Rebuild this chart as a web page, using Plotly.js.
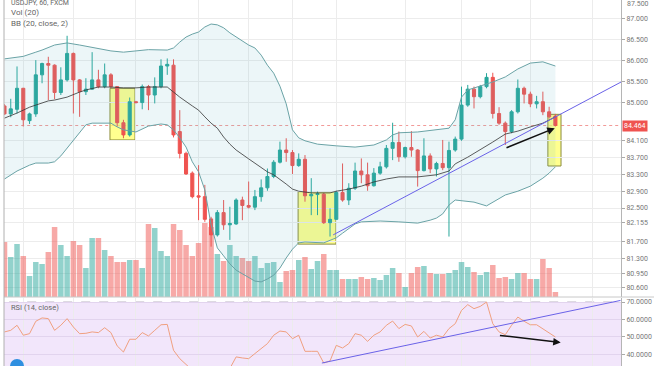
<!DOCTYPE html>
<html>
<head>
<meta charset="utf-8">
<script src="https://cdn.plot.ly/plotly-3.0.1.min.js"></script>
<style>html,body{margin:0;padding:0;background:#fff;}#chart{width:654px;height:366px;}</style>
</head>
<body>
<div id="chart"></div>
<script>
// ---- Candles ----
const opens  = [84.93,84.74,84.85,85.35,84.58,84.74,85.67,85.94,85.90,85.25,85.55,86.18,85.55,85.27,85.33,85.55,85.39,85.67,85.39,84.53,84.24,85.03,85.01,85.39,85.19,85.39,85.88,85.90,84.32,83.80,83.33,82.79,82.77,82.24,81.86,82.39,82.10,82.12,82.69,82.56,82.52,82.77,82.98,83.25,83.59,83.88,83.82,83.51,83.66,82.79,82.82,82.83,82.15,82.23,82.87,82.69,82.97,83.38,83.29,83.03,83.33,83.48,83.92,84.06,83.72,83.94,83.88,83.39,83.74,83.43,83.56,83.46,83.88,84.14,84.95,85.33,85.15,85.39,85.61,84.75,84.52,84.32,84.79,85.35,85.21,84.98,85.03,84.79,84.69];
const highs  = [84.97,85.10,85.87,85.36,84.77,86.02,85.96,86.10,85.92,85.85,86.60,86.20,85.57,85.59,86.21,85.79,85.94,85.71,85.40,84.60,85.13,85.05,85.44,85.43,85.61,86.04,86.06,86.04,84.83,83.84,83.37,83.52,83.05,82.29,82.45,82.69,82.53,82.73,82.77,83.13,82.93,83.18,83.44,83.64,84.08,84.16,83.88,83.80,83.76,83.21,82.89,82.86,82.49,82.91,83.56,83.09,83.58,83.68,83.58,83.45,83.60,84.00,84.53,84.32,83.96,84.33,83.90,84.16,83.80,83.60,84.12,84.08,84.20,85.39,85.43,85.39,85.43,85.71,85.72,84.90,84.56,84.83,85.56,85.39,85.27,85.17,85.27,84.91,84.74];
const lows   = [84.72,84.66,84.75,84.44,84.50,84.67,85.47,85.07,85.09,85.19,85.51,84.75,84.67,85.19,85.31,85.35,85.35,85.35,84.44,84.16,84.20,84.99,84.85,84.83,84.99,85.35,85.67,84.18,83.68,83.29,82.73,82.21,82.17,81.58,81.82,81.98,81.74,82.10,82.21,82.49,82.45,82.65,82.91,83.21,83.56,83.60,83.31,83.48,82.65,82.33,82.33,82.12,81.82,82.22,82.65,82.57,82.93,83.09,82.91,83.01,83.29,83.44,83.64,83.60,83.68,83.72,83.01,83.37,83.33,83.25,83.40,81.82,83.84,84.10,84.91,84.87,85.11,85.35,84.63,84.48,84.00,84.28,84.75,84.99,84.90,84.87,84.71,84.63,84.44];
const closes = [84.74,84.86,85.35,84.60,84.74,85.67,85.94,85.90,85.25,85.55,86.18,85.55,85.27,85.33,85.55,85.39,85.67,85.39,84.53,84.24,85.03,85.01,85.39,85.19,85.39,85.88,85.92,84.24,83.80,83.31,82.77,82.76,82.23,81.86,82.39,82.10,82.13,82.69,82.56,82.52,82.77,82.98,83.25,83.59,83.88,83.82,83.51,83.66,82.79,82.82,82.84,82.15,82.23,82.87,82.69,82.97,83.38,83.29,83.03,83.33,83.48,83.92,84.06,83.72,83.94,83.88,83.39,83.74,83.43,83.56,83.46,83.87,84.14,84.95,85.33,85.15,85.39,85.61,84.75,84.52,84.32,84.79,85.35,85.21,84.98,85.03,84.79,84.67,84.464];
const volumes = [55,40,53,41,21,35,33,45,70,52,41,56,52,29,59,59,47,41,35,35,37,37,29,73,69,46,41,73,67,52,41,54,74,70,43,36,52,41,39,36,41,29,34,35,15,26,27,37,40,28,36,43,27,27,18,18,18,20,18,19,17,22,29,24,10,24,30,31,24,23,23,24,27,35,30,25,22,25,32,19,20,18,24,24,18,18,38,29,5];
const rsi = [52.9,53.8,56.7,51.0,51.9,59.0,60.9,60.5,53.8,56.7,60.5,55.7,51.9,52.1,52.9,52.5,55.3,52.5,44.9,41.4,48.7,48.7,52.5,50.6,53.8,57.0,57.2,42.4,37.6,33.8,31,30.5,28,26,30,29,32,38.6,38.0,37.6,40.5,43.3,46.2,51.0,53.4,52.9,49.0,51.0,41.8,41.8,41.8,35.1,36.3,45.2,43.7,46.2,51.9,51.0,47.5,51.0,52.9,56.7,59.1,54.8,57.2,56.3,50.0,53.2,49.4,51.0,50.0,54.8,57.6,65.2,68.5,66.2,67.5,70.0,57.6,52.9,51.3,56.7,61.4,59.0,57.0,57.0,54.8,52.5,50.0];

// ---- Bollinger Bands ----
const upperIdx = [0,3,5,6,8,10,12,14,17,19,21,23,26,27,28,29,30,31,32,33,34,35,36,37,38,39,40,41,42,43,44,45,46,47,48,50,53,56,59,61,62,63,66,69,71,72,73,74,76,78,80,82,84,86,88];
const upperBand = [86.05,86.11,86.21,86.26,86.38,86.43,86.38,86.33,86.24,86.21,86.24,86.27,86.26,86.31,86.45,86.57,86.64,86.69,86.81,86.88,86.86,86.79,86.67,86.57,86.48,86.38,86.31,86.14,85.90,85.71,85.40,84.98,84.36,84.17,84.10,84.02,83.98,83.95,84.00,84.12,84.24,84.29,84.31,84.36,84.40,84.60,85.14,85.31,85.40,85.50,85.62,85.81,85.95,85.98,85.88];
const lowerIdx = [0,2,4,5,7,8,9,10,11,12,13,14,17,18,19,21,23,25,26,27,28,29,30,31,32,33,34,35,36,37,38,39,40,41,42,43,44,45,46,47,48,51,53,54,55,56,57,60,63,66,68,69,70,71,72,75,77,78,79,80,82,84,86,87,88];
const lowerBand = [83.19,83.38,83.52,83.57,83.57,83.60,83.74,83.93,84.12,84.29,84.48,84.52,84.52,84.43,84.36,84.31,84.45,84.50,84.48,84.36,84.17,83.95,83.60,83.36,82.93,82.10,81.55,81.36,81.17,81.02,80.93,80.83,80.76,80.74,80.81,80.90,81.07,81.31,81.52,81.67,81.69,81.67,81.79,81.90,82.00,82.12,82.17,82.19,82.17,82.14,82.21,82.26,82.36,82.57,82.69,82.64,82.55,82.64,82.74,82.81,82.90,83.02,83.21,83.33,83.48];
const basisIdx = [0,2,4,5,7,8,10,12,13,15,17,19,21,23,26,27,28,30,31,32,33,34,35,36,37,39,40,41,42,43,44,45,46,47,49,52,53,55,57,59,61,63,66,69,71,72,74,76,78,80,82,84,86,88];
const basisBand = [84.64,84.76,84.90,84.95,85.05,85.07,85.14,85.26,85.31,85.38,85.38,85.36,85.36,85.38,85.38,85.26,85.14,84.93,84.83,84.67,84.52,84.40,84.19,84.02,83.88,83.67,83.57,83.48,83.36,83.29,83.19,83.07,82.95,82.90,82.86,82.86,82.90,82.95,83.02,83.12,83.19,83.24,83.24,83.29,83.38,83.55,83.71,83.88,84.07,84.26,84.33,84.43,84.52,84.67];

// ---- Axis ticks ----
const priceTicks = [87.0,86.5,86.0,85.5,85.0,84.1,83.7,83.3,82.9,82.5,82.155,81.7,81.3,80.95,80.6];
const priceTickText = ["87.000","86.500","86.000","85.500","85.000","84.100","83.700","83.300","82.900","82.500","82.155","81.700","81.300","80.950","80.600"];
const rsiTicks = [70,60,50,40];
const rsiTickText = ["70.0000","60.0000","50.0000","40.0000"];
const timeGrid = [3,11,21,31,39,46,53,64,73,84,94];
const lastPrice = 84.464;

// ---- Drawings ----
const boxesX = [[16.85,20.85],[46.9,52.95],[86.8,88.9]];
const boxesY = [[84.12,85.35],[81.64,82.89],[83.50,84.73]];
const priceTrendX = [52.5,98.5], priceTrendY = [81.86,85.50];
const rsiTrendX = [50.7,98.4], rsiTrendY = [35.1,70.9];
const priceArrowX = [79.95,87.9], priceArrowY = [83.92,84.40];
const rsiArrowX = [78.9,88.85], rsiArrowY = [51.0,46.8];

const idx = closes.map((_, i) => i);
const UP = '#26a69a', DN = '#ef5350';
const volColors = closes.map((c, i) => c >= opens[i] ? 'rgba(38,166,154,0.5)' : 'rgba(239,83,80,0.5)');

const traces = [
  {type:'bar', x: idx, y: volumes, xaxis:'x', yaxis:'y', marker:{color: volColors, line:{width:0}}, hoverinfo:'skip'},
  {type:'scatter', mode:'lines', x: lowerIdx, y: lowerBand, xaxis:'x', yaxis:'y2', line:{color:'#6aa3a6', width:1}, hoverinfo:'skip'},
  {type:'scatter', mode:'lines', x: upperIdx, y: upperBand, xaxis:'x', yaxis:'y2', line:{color:'#6aa3a6', width:1}, fill:'tonexty', fillcolor:'rgba(100,180,200,0.12)', hoverinfo:'skip'},
  {type:'scatter', mode:'lines', x: basisIdx, y: basisBand, xaxis:'x', yaxis:'y2', line:{color:'#333', width:0.8}, hoverinfo:'skip'},
  {type:'candlestick', x: idx, open: opens, high: highs, low: lows, close: closes, xaxis:'x', yaxis:'y2',
    increasing:{line:{color:UP, width:1}, fillcolor:UP}, decreasing:{line:{color:DN, width:1}, fillcolor:DN},
    whiskerwidth:0, hoverinfo:'skip'},
  {type:'scatter', mode:'lines', x: idx, y: rsi, xaxis:'x', yaxis:'y3', line:{color:'#f0a080', width:1}, hoverinfo:'skip'}
];

const W = 654, H = 366, ML = 4, MR = 33;
const plotW = W - ML - MR;
const px = p => (p - ML) / plotW;      // pixel x -> paper
const py = p => (H - p) / H;            // pixel y -> paper
const fnt = 'Roboto, "Liberation Sans", sans-serif';

const shapes = [
  {type:'rect', xref:'x', yref:'y3', x0:-5, x1:110, y0:30, y1:70, fillcolor:'#f2e6fb', line:{width:0}, layer:'below'},
  {type:'line', xref:'x', yref:'y3', x0:-5, x1:110, y0:70, y1:70, line:{color:'#b8b0c0', width:1, dash:'dash'}, layer:'below'},
  {type:'line', xref:'x', yref:'y2', x0:-5, x1:110, y0:lastPrice, y1:lastPrice, line:{color:'#f29a98', width:1, dash:'dot'}, layer:'below'},
  {type:'line', xref:'paper', yref:'paper', x0:0, x1:px(W), y0:py(297), y1:py(297), line:{color:'#c8c8c8', width:1}},
  {type:'line', xref:'paper', yref:'paper', x0:0, x1:0, y0:0, y1:1, line:{color:'#b0b0b0', width:1}},
  {type:'circle', xref:'paper', yref:'paper', x0:px(10), x1:px(24), y0:py(373), y1:py(359), fillcolor:'#2f8fe0', line:{width:0}}
];
boxesX.forEach((bx, k) => {
  shapes.push({type:'rect', xref:'x', yref:'y2', x0:bx[0], x1:bx[1], y0:boxesY[k][0], y1:boxesY[k][1],
    fillcolor:'rgba(255,255,100,0.72)', line:{color:'#8c8c3c', width:1}, layer:'below'});
});
shapes.push({type:'line', xref:'x', yref:'y2', x0:priceTrendX[0], x1:priceTrendX[1], y0:priceTrendY[0], y1:priceTrendY[1], line:{color:'#6a62e8', width:1}});
shapes.push({type:'line', xref:'x', yref:'y3', x0:rsiTrendX[0], x1:rsiTrendX[1], y0:rsiTrendY[0], y1:rsiTrendY[1], line:{color:'#6a62e8', width:1}});

const annotations = [
  {xref:'paper', yref:'paper', x:px(9), y:py(3), xanchor:'left', yanchor:'middle', text:'USDJPY, 60, FXCM', showarrow:false, font:{family:fnt, size:7, color:'#666'}},
  {xref:'paper', yref:'paper', x:px(9), y:py(12), xanchor:'left', yanchor:'middle', text:'Vol (20)', showarrow:false, font:{family:fnt, size:8, color:'#666'}},
  {xref:'paper', yref:'paper', x:px(9), y:py(24), xanchor:'left', yanchor:'middle', text:'BB (20, close, 2)', showarrow:false, font:{family:fnt, size:8, color:'#666'}},
  {xref:'paper', yref:'paper', x:px(9), y:py(307), xanchor:'left', yanchor:'middle', text:'RSI (14, close)', showarrow:false, font:{family:fnt, size:7.5, color:'#666'}},
  {xref:'paper', yref:'paper', x:px(625), y:py(4), xanchor:'left', yanchor:'middle', text:'87.500', showarrow:false, font:{family:fnt, size:7, color:'#777'}},
  {xref:'paper', yref:'y2', x:px(622), y:lastPrice, xanchor:'left', yanchor:'middle', text:'84.464', showarrow:false,
    bgcolor:'#ef5350', borderpad:1, font:{family:fnt, size:7, color:'#ffffff'}},
  {xref:'x', yref:'y2', axref:'x', ayref:'y2', x:priceArrowX[1], y:priceArrowY[1], ax:priceArrowX[0], ay:priceArrowY[0],
    text:'', showarrow:true, arrowhead:2, arrowsize:1, arrowwidth:1.5, arrowcolor:'#111', standoff:0},
  {xref:'x', yref:'y3', axref:'x', ayref:'y3', x:rsiArrowX[1], y:rsiArrowY[1], ax:rsiArrowX[0], ay:rsiArrowY[0],
    text:'', showarrow:true, arrowhead:2, arrowsize:1, arrowwidth:1.5, arrowcolor:'#111', standoff:0}
];

const layout = {
  width: W, height: H,
  margin: {l: ML, r: MR, t: 0, b: 0, pad: 0},
  paper_bgcolor: '#ffffff', plot_bgcolor: '#ffffff',
  showlegend: false, bargap: 0.12,
  font: {family: fnt, size: 7, color: '#666'},
  xaxis: {range: [-0.08, 98.48], anchor: 'y3', showticklabels: false, ticks: '', tickmode: 'array', tickvals: timeGrid,
    showgrid: true, gridcolor: '#ececec', gridwidth: 1, zeroline: false, showline: false, rangeslider: {visible: false}, fixedrange: true},
  yaxis: {domain: [69/366, 1], range: [0, 297], visible: false, fixedrange: true},
  yaxis2: {overlaying: 'y', anchor: 'x', side: 'right', range: [80.381, 87.452], tickmode: 'array', tickvals: priceTicks, ticktext: priceTickText,
    showgrid: true, gridcolor: '#ececec', zeroline: false, ticks: 'outside', ticklen: 3, tickcolor: '#aaa',
    showline: true, linecolor: '#b5b5b5', linewidth: 1, tickfont: {family: fnt, size: 7, color: '#777'}, fixedrange: true},
  yaxis3: {domain: [0, 68/366], anchor: 'x', side: 'right', range: [33.4, 72.3], tickmode: 'array', tickvals: rsiTicks, ticktext: rsiTickText,
    showgrid: true, gridcolor: '#e2d4ee', zeroline: false, ticks: 'outside', ticklen: 3, tickcolor: '#aaa',
    showline: true, linecolor: '#b5b5b5', linewidth: 1, tickfont: {family: fnt, size: 7, color: '#777'}, fixedrange: true},
  shapes: shapes,
  annotations: annotations
};

Plotly.newPlot('chart', traces, layout, {displayModeBar: false, staticPlot: true});
</script>
</body>
</html>
